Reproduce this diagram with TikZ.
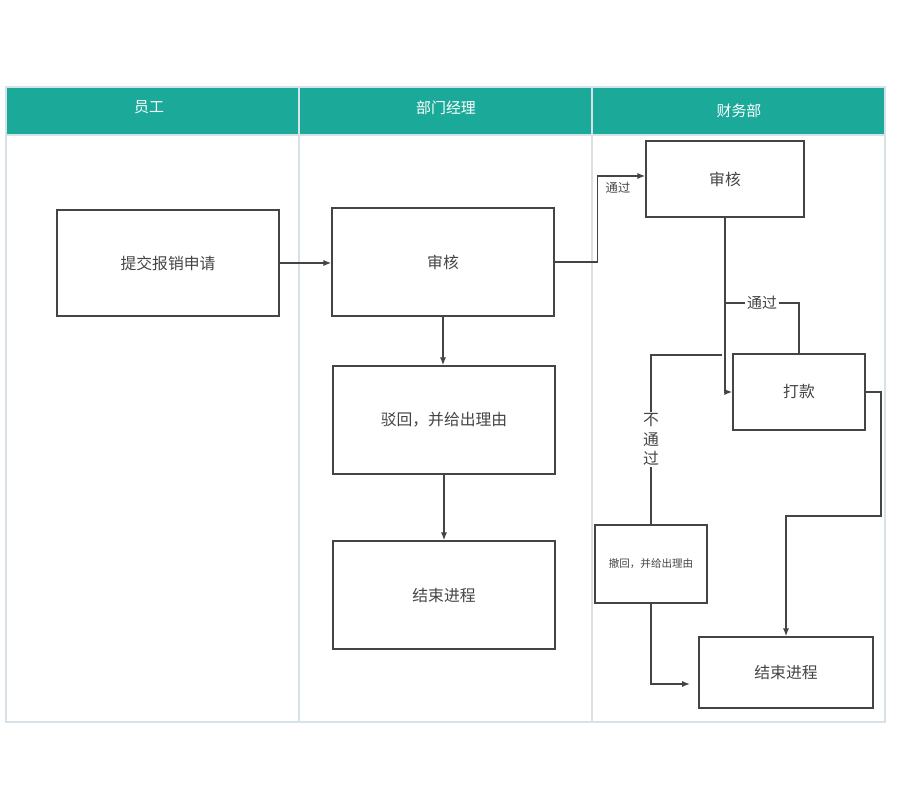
\documentclass[tikz,border=0pt]{standalone}
\usepackage{fontspec}
\setmainfont{Noto Sans CJK SC}
\usepackage{tikz}
\usetikzlibrary{arrows.meta, positioning}

\definecolor{headteal}{RGB}{27,170,154}
\definecolor{lanegray}{RGB}{214,226,232}
\definecolor{inkgray}{RGB}{68,68,68}

\begin{document}
\begin{tikzpicture}[x=0.02cm, y=-0.02cm,
  box/.style={draw=inkgray, line width=0.8pt, inner sep=0pt, text=inkgray,
    font=\fontsize{9}{11}\selectfont},
  head/.style={text=white, font=\fontsize{8.5}{10}\selectfont},
  link/.style={draw=inkgray, line width=0.8pt},
  arr/.style={link, -{Latex[length=4.5pt, width=3.5pt]}},
  tag/.style={fill=white, inner sep=1pt, text=inkgray}]

\useasboundingbox (0,0) rectangle (912,786);

% Lanes
\fill[headteal] (6,87) rectangle (885,135);
\draw[lanegray, line width=0.6pt] (6,87) rectangle (885,722);
\draw[lanegray, line width=0.6pt] (6,135) -- (885,135);
\draw[lanegray, line width=0.6pt] (299,87) -- (299,722);
\draw[lanegray, line width=0.6pt] (592,87) -- (592,722);
\node[head] (lane1) at (149,107) {员工};
\node[head] (lane2) at (446,108) {部门经理};
\node[head] (lane3) at (739,111) {财务部};

% Employee / manager
\node[box, minimum width=4.44cm, minimum height=2.12cm] (submit) at (168,263) {提交报销申请};
\node[box, minimum width=4.44cm, minimum height=2.16cm] (mgrcheck) at (443,262) {审核};
\node[box, minimum width=4.44cm, minimum height=2.16cm] (reject) at (444,420) {驳回，并给出理由};
\node[box, minimum width=4.44cm, minimum height=2.16cm] (mgrend) at (444,595) {结束进程};

% Finance
\node[box, minimum width=3.16cm, minimum height=1.52cm] (fincheck) at (725,179) {审核};
\node[box, minimum width=2.64cm, minimum height=1.52cm] (pay) at (799,392) {打款};
\node[box, minimum width=2.24cm, minimum height=1.56cm,
  font=\fontsize{6}{7}\selectfont] (withdraw) at (651,564) {撤回，并给出理由};
\node[box, minimum width=3.48cm, minimum height=1.42cm] (finend) at (786,672.5) {结束进程};

\coordinate (split) at (725,303);
\coordinate (fork) at (722,355);
\coordinate (endin) at (690,684);

% Connectors
\draw[arr] (submit.east) -- (submit.east -| mgrcheck.west);
\draw[arr] (mgrcheck.south) -- (mgrcheck.south |- reject.north);
\draw[arr] (reject.south) -- (mgrend.north);
\draw[arr] (mgrcheck.east) -- ++(43,0) |- ([yshift=0.06cm]fincheck.west);
\node[text=inkgray, font=\fontsize{7}{8}\selectfont] (pass1) at (618,188) {通过};
\draw[arr] (fincheck.south) |- (pay.west);
\draw[link] (split) -| (pay.north)
  node[tag, pos=0.25, font=\fontsize{8.5}{10}\selectfont] (pass2) {通过};
\draw[link] (fork) -| (withdraw.north)
  node[tag, pos=0.75, align=center, font=\fontsize{9}{11}\selectfont] (nopass) {不\\通\\过};
\draw[arr] (withdraw.south) |- (endin);
\draw[arr] (pay.east) -| (881,516) -| (finend.north);

\end{tikzpicture}
\end{document}
